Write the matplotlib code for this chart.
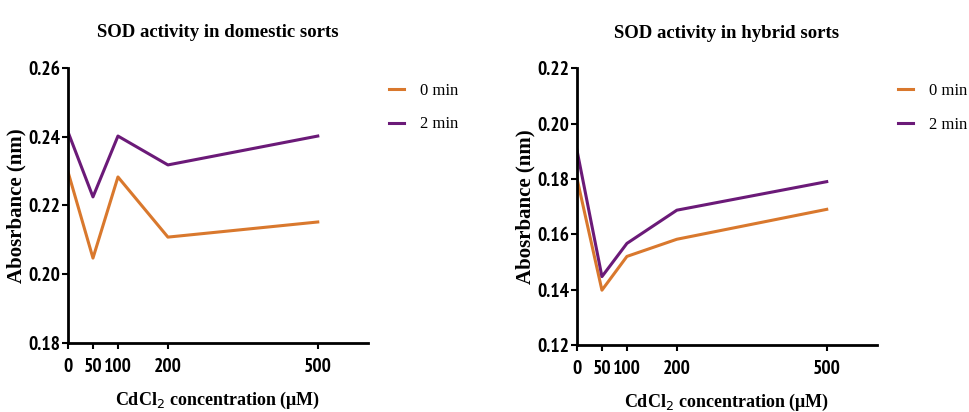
import matplotlib
matplotlib.use("Agg")
import matplotlib.pyplot as plt
from matplotlib import font_manager

conc = [0, 50, 100, 200, 500]
xticks = [0, 50, 100, 200, 500]

dom_0 = [0.2298, 0.2047, 0.2283, 0.2108, 0.2152]
dom_2 = [0.2414, 0.2225, 0.2402, 0.2318, 0.2402]
hyb_0 = [0.1802, 0.1398, 0.1520, 0.1582, 0.1690]
hyb_2 = [0.1904, 0.1447, 0.1567, 0.1687, 0.1790]

dom_yticks = [0.18, 0.20, 0.22, 0.24, 0.26]
hyb_yticks = [0.12, 0.14, 0.16, 0.18, 0.20, 0.22]

ORANGE = "#D9782D"
PURPLE = "#6B1A78"

# find a condensed / narrow sans font if available
tick_props = dict(family="Liberation Sans", stretch="normal")
found = None
for f in font_manager.fontManager.ttflist:
    fn = f.fname.lower()
    if "narrow" in fn and "bold" in fn:
        found = dict(family=f.name, stretch=f.stretch)
        break
if found is None:
    for f in font_manager.fontManager.ttflist:
        fn = f.fname.lower()
        if "condensed" in fn and "bold" in fn and "oblique" not in fn and "italic" not in fn:
            found = dict(family=f.name, stretch="condensed")
            break
if found is not None:
    tick_props = found
serif = "Liberation Serif"

fig = plt.figure(figsize=(9.7, 4.12), dpi=100)

panels = [
    ([0.0701, 0.1675, 0.309, 0.6675], "SOD activity in domestic sorts", dom_0, dom_2, dom_yticks),
    ([0.5948, 0.1626, 0.309, 0.672], "SOD activity in hybrid sorts", hyb_0, hyb_2, hyb_yticks),
]

for rect, title, s0, s2, yt in panels:
    ax = fig.add_axes(rect)
    ax.plot(conc, s0, color=ORANGE, lw=2.2, label="0 min")
    ax.plot(conc, s2, color=PURPLE, lw=2.2, label="2 min")
    ax.set_xlim(0, 600)
    ax.set_ylim(yt[0], yt[-1])
    ax.set_xticks(xticks)
    ax.set_yticks(yt)
    ax.set_yticklabels([f"{v:.2f}" for v in yt])
    for s in ["top", "right"]:
        ax.spines[s].set_visible(False)
    for s in ["left", "bottom"]:
        ax.spines[s].set_linewidth(2)
    ax.tick_params(axis="both", width=1.5, length=4, direction="out")
    ax.tick_params(axis="x", pad=7)
    ax.tick_params(axis="y", pad=1.5)
    for lab in ax.get_xticklabels() + ax.get_yticklabels():
        lab.set_fontfamily(tick_props["family"])
        lab.set_fontstretch(tick_props["stretch"])
        lab.set_fontweight("bold")
        lab.set_fontsize(14)
    ax.set_title(title, fontfamily=serif, fontweight="bold", fontsize=13.5, pad=22)
    ax.set_xlabel("CdCl$_2$ concentration (μM)", fontfamily=serif, fontweight="bold",
                  fontsize=13, labelpad=10)
    ax.set_ylabel("Abosrbance (nm)", fontfamily=serif, fontweight="bold", fontsize=15,
                  labelpad=1)
    ax.legend(loc="upper left", bbox_to_anchor=(1.02, 1.0), frameon=False,
              prop={"family": serif, "size": 12}, handlelength=0.9, handletextpad=1.0,
              labelspacing=1.05)

fig.savefig("out.png", dpi=100)
